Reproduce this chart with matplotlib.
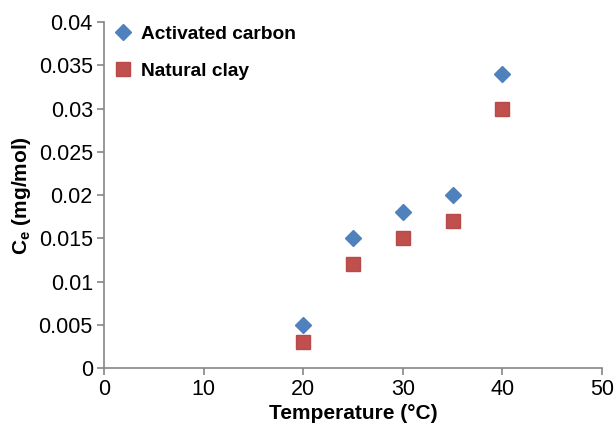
import matplotlib
matplotlib.use("Agg")
import matplotlib.pyplot as plt

plt.rcParams["font.family"] = ["Liberation Sans", "DejaVu Sans"]
plt.rcParams["mathtext.default"] = "regular"

temperature = [20, 25, 30, 35, 40]
activated_carbon = [0.005, 0.015, 0.018, 0.020, 0.034]
natural_clay = [0.003, 0.012, 0.015, 0.017, 0.030]

x_ticks = [0, 10, 20, 30, 40, 50]
y_ticks = [0, 0.005, 0.01, 0.015, 0.02, 0.025, 0.03, 0.035, 0.04]
y_tick_labels = ["0", "0.005", "0.01", "0.015", "0.02", "0.025", "0.03", "0.035", "0.04"]

blue = "#4F81BD"
red = "#C0504D"
axis_gray = "#868686"

fig = plt.figure(figsize=(6.15, 4.25), dpi=100)
ax = fig.add_axes([0.169, 0.134, 0.810, 0.814])

ax.plot(temperature, activated_carbon, linestyle="none", marker="D",
        markersize=8, color=blue, markeredgecolor=blue, label="Activated carbon")
ax.plot(temperature, natural_clay, linestyle="none", marker="s",
        markersize=10.5, color=red, markeredgecolor="#B84A47", label="Natural clay")

ax.set_xlim(0, 50)
ax.set_ylim(0, 0.04)
ax.set_xticks(x_ticks)
ax.set_yticks(y_ticks)
ax.set_yticklabels(y_tick_labels)
ax.tick_params(axis="both", labelsize=15.5, color=axis_gray, length=5, width=1.2,
               direction="out", pad=3)

for side in ("top", "right"):
    ax.spines[side].set_visible(False)
for side in ("left", "bottom"):
    ax.spines[side].set_color(axis_gray)
    ax.spines[side].set_linewidth(1.2)

ax.set_xlabel("Temperature (°C)", fontsize=15, fontweight="bold", labelpad=3)
ax.set_ylabel("C$_{e}$ (mg/mol)", fontsize=15, fontweight="bold", labelpad=4)

ax.legend(loc="upper left", bbox_to_anchor=(0.02, 0.99), frameon=False,
          prop={"weight": "bold", "size": 13.8}, handletextpad=0.4,
          labelspacing=1.0, borderaxespad=0, borderpad=0, handlelength=1.0)

fig.savefig("out.png", dpi=100)
